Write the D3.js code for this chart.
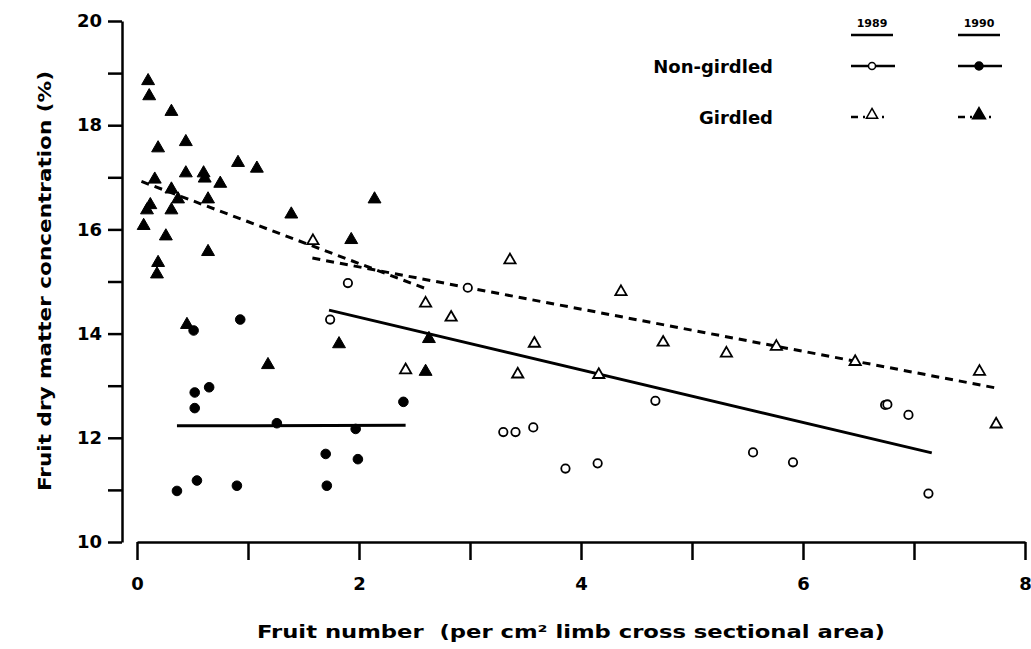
<!DOCTYPE html>
<meta charset="utf-8">
<style>
body { margin: 0; background: #fff; }
text { font-family: "DejaVu Sans", "Liberation Sans", sans-serif; font-weight: bold; fill: #000; white-space: pre; }
</style>

<div id="chart"></div>

<script src="https://d3js.org/d3.v7.min.js"></script>
<script>

// 1990 girdled (filled triangles)
var girdled1990 = [
  [0.10,18.85],[0.11,18.56],[0.31,18.26],[0.44,17.68],[0.19,17.56],[0.91,17.28],
  [1.08,17.17],[0.44,17.08],[0.60,17.08],[0.61,16.98],[0.75,16.88],[0.16,16.96],
  [0.31,16.77],[0.37,16.58],[0.64,16.58],[0.12,16.47],[0.09,16.37],[0.31,16.37],
  [0.06,16.07],[0.26,15.87],[0.64,15.57],[0.19,15.36],[0.18,15.14],[2.14,16.58],
  [1.39,16.29],[1.93,15.80],[1.82,13.80],[1.18,13.40],[2.63,13.90],[2.60,13.27],
  [0.45,14.17]
];

// 1989 girdled (open triangles)
var girdled1989 = [
  [1.585,15.78],[2.60,14.58],[2.83,14.31],[2.42,13.30],[3.36,15.41],[4.36,14.80],
  [3.58,13.81],[4.74,13.83],[3.43,13.22],[4.16,13.21],[5.31,13.62],[5.76,13.75],
  [6.47,13.46],[7.59,13.27],[7.74,12.26]
];

// 1989 non-girdled (open circles)
var nongirdled1989 = [
  [1.90,14.97],[1.74,14.27],[2.98,14.88],[4.67,12.71],[3.30,12.11],[3.41,12.11],
  [3.57,12.20],[3.86,11.41],[4.15,11.51],[6.74,12.63],[6.76,12.64],[6.95,12.44],
  [5.55,11.72],[5.91,11.53],[7.13,10.93]
];

// 1990 non-girdled (filled circles)
var nongirdled1990 = [
  [0.51,14.06],[0.93,14.27],[0.65,12.97],[0.52,12.87],[0.52,12.57],[2.40,12.69],
  [1.26,12.28],[1.97,12.17],[1.70,11.69],[1.99,11.59],[0.54,11.18],[0.90,11.08],
  [1.71,11.08],[0.36,10.98]
];

// fitted lines (end points)
var fitGirdled1990 = [[0.04,16.92],[2.63,14.84]];
var fitGirdled1989 = [[1.58,15.45],[7.73,12.96]];
var fitNongirdled1989 = [[1.73,14.45],[7.16,11.71]];
var fitNongirdled1990 = [[0.36,12.23],[2.42,12.24]];

var xTicks = [0,1,2,3,4,5,6,7,8];
var xLabels = [0,2,4,6,8];
var yTicks = [10,11,12,13,14,15,16,17,18,19,20];
var yLabels = [10,12,14,16,18,20];

var legendYears = ["1989","1990"];
var legendRows = ["Non-girdled","Girdled"];

var width = 1031, height = 649;

var svg = d3.select("#chart")
  .append("svg")
    .attr("width", width)
    .attr("height", height);

var x = d3.scaleLinear().domain([0, 8]).range([137, 1025]);
var y = d3.scaleLinear().domain([10, 20]).range([542, 21]);

// Y axis
var yAxis = svg.append("g")
  .attr("transform", "translate(" + (x(0) - 15) + ",0)")
  .call(d3.axisLeft(y)
    .tickValues(yTicks)
    .tickSize(14)
    .tickSizeOuter(0)
    .tickPadding(6)
    .tickFormat(function(d){ return yLabels.indexOf(d) >= 0 ? d : ""; }));

// X axis
var xAxis = svg.append("g")
  .attr("transform", "translate(0," + y(10) + ")")
  .call(d3.axisBottom(x)
    .tickValues(xTicks)
    .tickSize(18)
    .tickSizeOuter(0)
    .tickPadding(17)
    .tickFormat(function(d){ return xLabels.indexOf(d) >= 0 ? d : ""; }));

[yAxis, xAxis].forEach(function(a){
  a.selectAll("path, line").attr("stroke", "#000").attr("stroke-width", 2.5);
  a.selectAll("text")
    .style("font-family", "\"DejaVu Sans\", sans-serif")
    .style("font-weight", "bold")
    .style("font-size", "18px");
});

// axis titles
svg.append("text")
  .attr("x", 571)
  .attr("y", 638)
  .attr("text-anchor", "middle")
  .attr("textLength", 628)
  .attr("lengthAdjust", "spacingAndGlyphs")
  .style("font-size", "17px")
  .text("Fruit number  (per cm\u00B2 limb cross sectional area)");

svg.append("text")
  .attr("transform", "translate(51,281) rotate(-90)")
  .attr("text-anchor", "middle")
  .attr("textLength", 420)
  .attr("lengthAdjust", "spacingAndGlyphs")
  .style("font-size", "17px")
  .text("Fruit dry matter concentration (%)");

// fitted lines
var line = d3.line()
  .x(function(d){ return x(d[0]); })
  .y(function(d){ return y(d[1]); });

[fitGirdled1990, fitGirdled1989].forEach(function(f){
  svg.append("path")
    .attr("d", line(f))
    .attr("fill", "none")
    .attr("stroke", "#000")
    .attr("stroke-width", 3)
    .attr("stroke-dasharray", "8,6");
});
[fitNongirdled1989, fitNongirdled1990].forEach(function(f){
  svg.append("path")
    .attr("d", line(f))
    .attr("fill", "none")
    .attr("stroke", "#000")
    .attr("stroke-width", 3);
});

// markers
var tri = d3.symbol().type(d3.symbolTriangle).size(72);
var triOpen = d3.symbol().type(d3.symbolTriangle).size(55);

function drawTriangles(data, filled) {
  svg.append("g")
    .selectAll("path")
    .data(data)
    .enter()
    .append("path")
      .attr("d", filled ? tri : triOpen)
      .attr("transform", function(d){ return "translate(" + x(d[0]) + "," + y(d[1]) + ")"; })
      .attr("fill", filled ? "#000" : "#fff")
      .attr("stroke", "#000")
      .attr("stroke-width", filled ? 1 : 1.8);
}
function drawCircles(data, filled) {
  svg.append("g")
    .selectAll("circle")
    .data(data)
    .enter()
    .append("circle")
      .attr("cx", function(d){ return x(d[0]); })
      .attr("cy", function(d){ return y(d[1]); })
      .attr("r", filled ? 4.8 : 4.2)
      .attr("fill", filled ? "#000" : "#fff")
      .attr("stroke", "#000")
      .attr("stroke-width", filled ? 1 : 1.8);
}

drawTriangles(girdled1990, true);
drawTriangles(girdled1989, false);
drawCircles(nongirdled1989, false);
drawCircles(nongirdled1990, true);

// legend
var colX = [872, 979];
var rowY = [66, 117];

legendYears.forEach(function(t, i){
  svg.append("text")
    .attr("x", colX[i])
    .attr("y", 27)
    .attr("text-anchor", "middle")
    .style("font-size", "11px")
    .text(t);
  svg.append("line")
    .attr("x1", colX[i] - 21).attr("x2", colX[i] + 21)
    .attr("y1", 35).attr("y2", 35)
    .attr("stroke", "#000").attr("stroke-width", 2.5);
});

legendRows.forEach(function(t, i){
  svg.append("text")
    .attr("x", 773)
    .attr("y", rowY[i] + 7)
    .attr("text-anchor", "end")
    .style("font-size", "18px")
    .text(t);
  colX.forEach(function(cx, j){
    var g = svg.append("g");
    var ln = g.append("line")
      .attr("x1", cx - 21).attr("x2", cx + 23)
      .attr("y1", rowY[i]).attr("y2", rowY[i])
      .attr("stroke", "#000").attr("stroke-width", 2.5);
    if (i == 1) ln.attr("stroke-dasharray", "7,5,2,10,2,5,2,20");
    if (i == 0) {
      g.append("circle")
        .attr("cx", cx).attr("cy", rowY[i])
        .attr("r", j == 0 ? 3.5 : 4)
        .attr("fill", j == 0 ? "#fff" : "#000")
        .attr("stroke", "#000").attr("stroke-width", 1.5);
    } else {
      g.append("path")
        .attr("d", j == 0 ? triOpen : tri)
        .attr("transform", "translate(" + cx + "," + (rowY[i] - 2) + ")")
        .attr("fill", j == 0 ? "#fff" : "#000")
        .attr("stroke", "#000").attr("stroke-width", 1.5);
    }
  });
});

</script>
